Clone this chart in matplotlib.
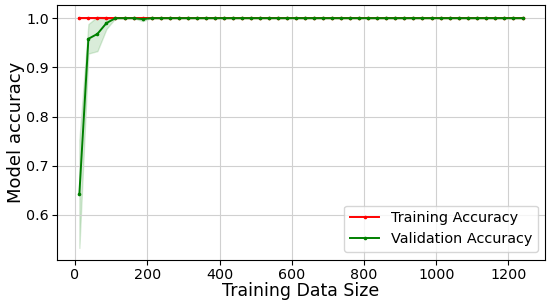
import numpy as np
import matplotlib
matplotlib.use("Agg")
import matplotlib.pyplot as plt

# training set sizes (x axis)
train_sizes = [12, 37, 62, 87, 112, 137, 162, 187, 212, 237, 262, 287, 312, 337,
               362, 387, 412, 437, 462, 487, 512, 537, 562, 587, 612, 637, 662,
               687, 712, 737, 762, 787, 812, 837, 862, 887, 912, 937, 962, 987,
               1012, 1037, 1062, 1087, 1112, 1137, 1162, 1187, 1212, 1240]

train_mean = [1.0] * 50
train_std = [0.0, 0.0, 0.0, 0.002, 0.0, 0.0, 0.0, 0.001] + [0.0] * 42

val_mean = [0.643, 0.958, 0.968, 0.99, 1.0, 1.0, 1.0, 0.998] + [1.0] * 42
val_std = [0.11, 0.03, 0.035, 0.012, 0.0, 0.0, 0.0, 0.004] + [0.0] * 42

train_mean = np.array(train_mean)
train_std = np.array(train_std)
val_mean = np.array(val_mean)
val_std = np.array(val_std)

fig, ax = plt.subplots(figsize=(5.5, 3), dpi=100)

ax.plot(train_sizes, train_mean, color="red", marker="o", markersize=1.6,
        linewidth=1.4, label="Training Accuracy")
ax.fill_between(train_sizes, train_mean - train_std, train_mean + train_std,
                color="red", alpha=0.15)
ax.plot(train_sizes, val_mean, color="green", marker="o", markersize=1.6,
        linewidth=1.4, label="Validation Accuracy")
ax.fill_between(train_sizes, val_mean - val_std, val_mean + val_std,
                color="green", alpha=0.15)

ax.grid(True, color="#d0d0d0")
ax.set_xlabel("Training Data Size", fontsize=12.5, labelpad=0)
ax.set_ylabel("Model accuracy", fontsize=13, labelpad=0.5)
ax.tick_params(labelsize=10.3, pad=2.5)
ax.legend(loc="lower right", fontsize=10.4)

fig.subplots_adjust(left=0.104, right=0.991, top=0.983, bottom=0.135)
fig.savefig("out.png")
